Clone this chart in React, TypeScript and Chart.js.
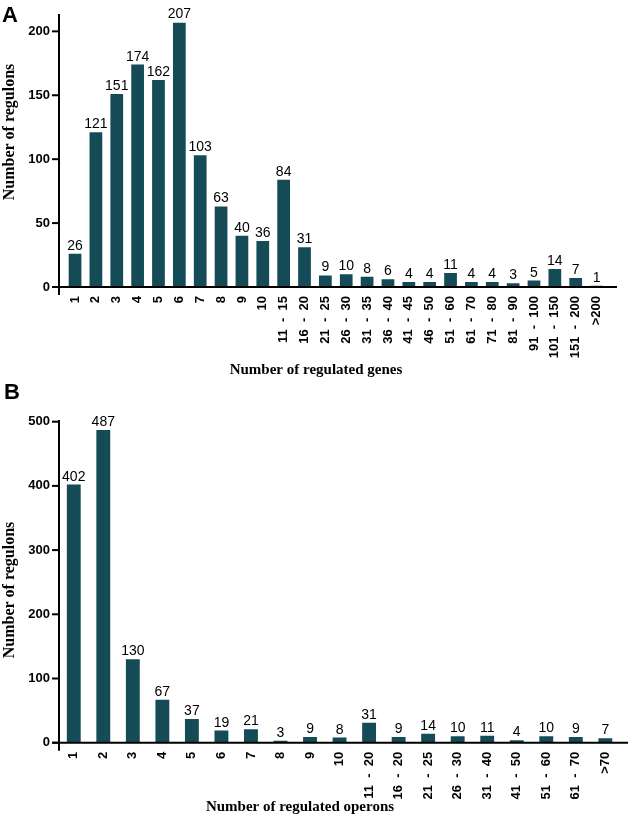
import React, { useEffect, useRef } from 'react';
import { Chart, registerables } from 'chart.js';

Chart.register(...registerables);

// ---- Data ----
const genesCategories = ['1', '2', '3', '4', '5', '6', '7', '8', '9', '10', '11  -  15', '16  -  20', '21  -  25', '26  -  30', '31  -  35', '36  -  40', '41  -  45', '46  -  50', '51  -  60', '61  -  70', '71  -  80', '81  -  90', '91  -  100', '101  -  150', '151  -  200', '>200'];
const genesCounts = [26, 121, 151, 174, 162, 207, 103, 63, 40, 36, 84, 31, 9, 10, 8, 6, 4, 4, 11, 4, 4, 3, 5, 14, 7, 1];
const genesTicks = [0, 50, 100, 150, 200];

const operonsCategories = ['1', '2', '3', '4', '5', '6', '7', '8', '9', '10', '11  -  20', '16  -  20', '21  -  25', '26  -  30', '31  -  40', '41  -  50', '51  -  60', '61  -  70', '>70'];
const operonsCounts = [402, 487, 130, 67, 37, 19, 21, 3, 9, 8, 31, 9, 14, 10, 11, 4, 10, 9, 7];
const operonsTicks = [0, 100, 200, 300, 400, 500];

const BAR_COLOR = '#144b56';
const SANS = '"Liberation Sans", Arial, sans-serif';
const SERIF = '"Liberation Serif", "Times New Roman", serif';

type PanelCfg = {
  letter: string;
  letterPos: [number, number];
  labels: string[];
  values: number[];
  ticks: number[];
  yMax: number;
  barPct: number;
  width: number;
  height: number;
  area: { left: number; right: number; top: number; bottom: number };
  axisX: number;
  axisTop: number;
  axisRight: number;
  yTitle: string;
  yTitlePos: [number, number];
  xTitle: string;
  xTitlePos: [number, number];
  top: number;
};

const panels: PanelCfg[] = [
  {
    letter: 'A',
    letterPos: [2, 22],
    labels: genesCategories,
    values: genesCounts,
    ticks: genesTicks,
    yMax: 207,
    barPct: 0.61,
    width: 630,
    height: 380,
    area: { left: 64.6, right: 607, top: 15, bottom: 287 },
    axisX: 59,
    axisTop: 14,
    axisRight: 617,
    yTitle: 'Number of regulons',
    yTitlePos: [10, 132],
    xTitle: 'Number of regulated genes',
    xTitlePos: [316, 370],
    top: 0,
  },
  {
    letter: 'B',
    letterPos: [4, 19],
    labels: operonsCategories,
    values: operonsCounts,
    ticks: operonsTicks,
    yMax: 500,
    barPct: 0.47,
    width: 630,
    height: 438,
    area: { left: 59, right: 628, top: 41.7, bottom: 362.7 },
    axisX: 59,
    axisTop: 40,
    axisRight: 628,
    yTitle: 'Number of regulons',
    yTitlePos: [10, 210],
    xTitle: 'Number of regulated operons',
    xTitlePos: [300, 427],
    top: 380,
  },
];

function Panel({ cfg }: { cfg: PanelCfg }) {
  const ref = useRef<HTMLCanvasElement | null>(null);

  useEffect(() => {
    const canvas = ref.current;
    if (!canvas) return;
    const { area } = cfg;

    const decor = {
      id: 'decor',
      afterDraw(chart: any) {
        const ctx = chart.ctx as CanvasRenderingContext2D;
        const bottom = chart.chartArea.bottom;
        const yScale = chart.scales.y;
        const meta = chart.getDatasetMeta(0);
        ctx.save();
        // value labels
        ctx.fillStyle = '#000';
        ctx.font = `14px ${SANS}`;
        ctx.textAlign = 'center';
        ctx.textBaseline = 'alphabetic';
        meta.data.forEach((bar: any, i: number) => {
          ctx.fillText(String(cfg.values[i]), bar.x, bar.y - 4);
        });
        // axes
        ctx.strokeStyle = '#000';
        ctx.lineWidth = 2;
        ctx.beginPath();
        ctx.moveTo(cfg.axisX, cfg.axisTop);
        ctx.lineTo(cfg.axisX, bottom + 8);
        ctx.stroke();
        ctx.beginPath();
        ctx.moveTo(cfg.axisX - 7, bottom);
        ctx.lineTo(cfg.axisRight, bottom);
        ctx.stroke();
        yScale.ticks.forEach((t: any) => {
          const py = yScale.getPixelForValue(t.value);
          ctx.beginPath();
          ctx.moveTo(cfg.axisX - 7, py);
          ctx.lineTo(cfg.axisX, py);
          ctx.stroke();
        });
        // panel letter
        ctx.textAlign = 'left';
        ctx.font = `bold 22px ${SANS}`;
        ctx.fillText(cfg.letter, cfg.letterPos[0], cfg.letterPos[1]);
        // titles
        ctx.font = `bold 15px ${SERIF}`;
        ctx.textAlign = 'center';
        ctx.textBaseline = 'middle';
        ctx.fillText(cfg.xTitle, cfg.xTitlePos[0], cfg.xTitlePos[1]);
        ctx.font = `bold 16px ${SERIF}`;
        ctx.translate(cfg.yTitlePos[0], cfg.yTitlePos[1]);
        ctx.rotate(-Math.PI / 2);
        ctx.fillText(cfg.yTitle, 0, 0);
        ctx.restore();
      },
    };

    const chart = new Chart(canvas, {
      type: 'bar',
      data: {
        labels: cfg.labels,
        datasets: [
          {
            data: cfg.values,
            backgroundColor: BAR_COLOR,
            borderWidth: 0,
            barPercentage: cfg.barPct,
            categoryPercentage: 1,
          },
        ],
      },
      options: {
        responsive: false,
        animation: false,
        devicePixelRatio: 1,
        layout: { padding: { top: area.top, right: cfg.width - area.right, left: 0, bottom: 0 } },
        plugins: { legend: { display: false }, tooltip: { enabled: false } },
        scales: {
          x: {
            type: 'category',
            offset: true,
            grid: { display: false, drawTicks: false },
            border: { display: false },
            ticks: {
              autoSkip: false,
              minRotation: 90,
              maxRotation: 90,
              padding: 9,
              color: '#000',
              font: { family: SANS, weight: 'bold', size: 13 },
            },
            afterFit: (s: any) => {
              s.height = cfg.height - area.bottom;
            },
          },
          y: {
            min: 0,
            max: cfg.yMax,
            grid: { display: false, drawTicks: false },
            border: { display: false },
            afterBuildTicks: (s: any) => {
              s.ticks = cfg.ticks.map((v) => ({ value: v }));
            },
            ticks: {
              padding: area.left - 50,
              color: '#000',
              font: { family: SANS, weight: 'bold', size: 13 },
            },
            afterFit: (s: any) => {
              s.width = area.left;
            },
          },
        },
      } as any,
      plugins: [decor],
    });

    return () => chart.destroy();
  }, [cfg]);

  return (
    <canvas
      ref={ref}
      width={cfg.width}
      height={cfg.height}
      style={{ position: 'absolute', left: 0, top: cfg.top, width: cfg.width, height: cfg.height }}
    />
  );
}

export default function App() {
  return (
    <div style={{ position: 'absolute', left: 0, top: 0, width: 630, height: 818, background: '#fff' }}>
      {panels.map((p) => (
        <Panel key={p.letter} cfg={p} />
      ))}
    </div>
  );
}
